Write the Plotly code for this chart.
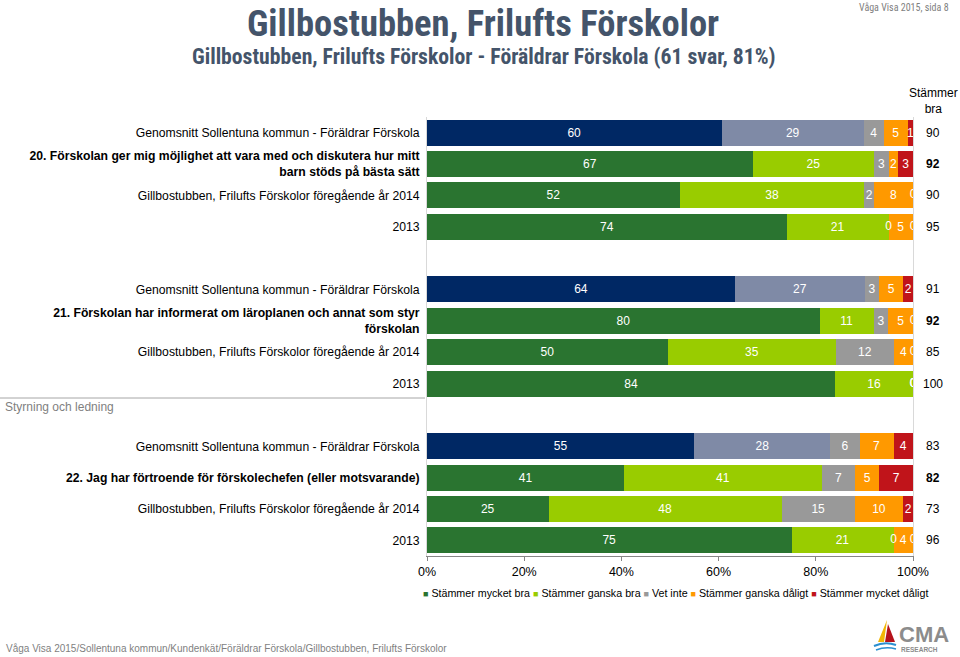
import plotly.graph_objects as go

# ---------------- data ----------------
series_names = ["Stämmer mycket bra", "Stämmer ganska bra", "Vet inte",
                "Stämmer ganska dåligt", "Stämmer mycket dåligt"]

questions = [
    "<b>20. Förskolan ger mig möjlighet att vara med och diskutera hur mitt<br>barn stöds på bästa sätt</b>",
    "<b>21. Förskolan har informerat om läroplanen och annat som styr<br>förskolan</b>",
    "<b>22. Jag har förtroende för förskolechefen (eller motsvarande)</b>",
]
row_kinds = ["Genomsnitt Sollentuna kommun - Föräldrar Förskola", "QUESTION",
             "Gillbostubben, Frilufts Förskolor föregående år 2014", "2013"]

mycket_bra = [60, 67, 52, 74, 64, 80, 50, 84, 55, 41, 25, 75]
ganska_bra = [29, 25, 38, 21, 27, 11, 35, 16, 28, 41, 48, 21]
vet_inte = [4, 3, 2, 0, 3, 3, 12, 0, 6, 7, 15, 0]
ganska_daligt = [5, 2, 8, 5, 5, 5, 4, 0, 7, 5, 10, 4]
mycket_daligt = [1, 3, 0, 0, 2, 0, 0, 0, 4, 7, 2, 0]
stammer_bra = [90, 92, 90, 95, 91, 92, 85, 100, 83, 82, 73, 96]

x_ticks = [0, 20, 40, 60, 80, 100]
x_ticktext = ["0%", "20%", "40%", "60%", "80%", "100%"]

section_label = "Styrning och ledning"

colors_main = ["#2a7430", "#99cc00", "#999999", "#ff9900", "#c0141a"]
colors_avg = ["#002864", "#7f8aa6", "#999999", "#ff9900", "#c0141a"]

# ---------------- layout helpers ----------------
all_series = [mycket_bra, ganska_bra, vet_inte, ganska_daligt, mycket_daligt]
n_rows = len(mycket_bra)
ypos = [(i // 4) * 5 + (i % 4) for i in range(n_rows)]
labels = []
for i in range(n_rows):
    kind = row_kinds[i % 4]
    labels.append(questions[i // 4] if kind == "QUESTION" else kind)

avg_idx = [i for i in range(n_rows) if i % 4 == 0]
main_idx = [i for i in range(n_rows) if i % 4 != 0]

fig = go.Figure()
FONT = "Liberation Sans, Arial, sans-serif"
NARROW = "Liberation Sans Narrow, Arial Narrow, Roboto Condensed, Liberation Sans, sans-serif"

for s, name in enumerate(series_names):
    vals = all_series[s]
    for idx, cols in ((main_idx, colors_main), (avg_idx, colors_avg)):
        fig.add_trace(go.Bar(
            x=[vals[i] for i in idx],
            y=[ypos[i] for i in idx],
            orientation="h",
            name=name,
            showlegend=False,
            marker=dict(color=cols[s], line=dict(width=0)),
            text=[str(vals[i]) if vals[i] > 0 else "" for i in idx],
            textposition="inside",
            insidetextanchor="middle",
            textangle=0,
            textfont=dict(color="white", size=12, family=FONT),
            hoverinfo="x+y+name",
        ))

# zero-value labels at their stacked positions (normalised to 100 %)
zx, zy = [], []
for i in range(n_rows):
    row = [ser[i] for ser in all_series]
    tot = sum(row)
    cum = 0
    for v in row:
        if v == 0:
            zx.append(cum / tot * 100)
            zy.append(ypos[i])
        cum += v
fig.add_trace(go.Scatter(
    x=zx, y=zy, mode="text", text=["0"] * len(zx),
    textfont=dict(color="white", size=12, family=FONT),
    showlegend=False, hoverinfo="skip", cliponaxis=True,
))

W, H = 960, 657
L, R, T, B = 427, 47, 117, 101

fig.update_layout(
    width=W, height=H,
    margin=dict(l=L, r=R, t=T, b=B, autoexpand=False),
    barmode="stack", barnorm="percent", bargap=0.17,
    plot_bgcolor="white", paper_bgcolor="white",
    uniformtext=dict(minsize=12, mode="show"),
    font=dict(family=FONT, size=12, color="#000000"),
    showlegend=False,
    xaxis=dict(range=[0, 100], tickvals=x_ticks, ticktext=x_ticktext,
               showgrid=False, zeroline=False, ticks="outside", ticklen=4,
               tickcolor="#868686", showline=True, linecolor="#868686",
               tickfont=dict(size=12.5, family=FONT), automargin=False),
    yaxis=dict(range=[13.5, -0.5], tickvals=ypos, ticktext=labels,
               showgrid=False, zeroline=False, ticks="", showline=True,
               linecolor="#d9d9d9", mirror=True, automargin=False,
               tickfont=dict(size=12.2, family=FONT), ticklabelstandoff=4),
)

pw = W - L - R
ph = H - T - B


def px_x(x):
    return (x - L) / pw


def py(y):
    return 1 - (y - T) / ph


ann = []
ann.append(dict(text="Stämmer<br>bra", x=px_x(933), y=py(101), xref="paper", yref="paper",
                xanchor="center", yanchor="middle", showarrow=False,
                font=dict(size=12, family=FONT)))
for i in range(n_rows):
    txt = f"<b>{stammer_bra[i]}</b>" if i % 4 == 1 else str(stammer_bra[i])
    ann.append(dict(text=txt, x=px_x(933), y=ypos[i], xref="paper", yref="y",
                    xanchor="center", yanchor="middle", showarrow=False,
                    font=dict(size=12, family=FONT)))
ann.append(dict(text="<b>Gillbostubben, Frilufts Förskolor</b>", x=px_x(483), y=py(24),
                xref="paper", yref="paper", showarrow=False, xanchor="center", yanchor="middle",
                font=dict(size=36.5, family=NARROW, color="#44546a")))
ann.append(dict(text="<b>Gillbostubben, Frilufts Förskolor - Föräldrar Förskola (61 svar, 81%)</b>",
                x=px_x(484), y=py(56), xref="paper", yref="paper", showarrow=False,
                xanchor="center", yanchor="middle",
                font=dict(size=21.7, family=NARROW, color="#44546a")))
ann.append(dict(text="Våga Visa 2015, sida 8", x=px_x(951), y=py(7), xref="paper", yref="paper",
                showarrow=False, xanchor="right", yanchor="middle",
                font=dict(size=10, family=NARROW, color="#7f7f7f")))
ann.append(dict(text=section_label, x=px_x(3), y=py(407), xref="paper", yref="paper",
                showarrow=False, xanchor="left", yanchor="middle",
                font=dict(size=12, family=FONT, color="#7f7f7f")))
ann.append(dict(text="Våga Visa 2015/Sollentuna kommun/Kundenkät/Föräldrar Förskola/Gillbostubben, Frilufts Förskolor",
                x=px_x(4), y=py(648), xref="paper", yref="paper", showarrow=False,
                xanchor="left", yanchor="middle",
                font=dict(size=10, family=FONT, color="#7f7f7f")))
# legend drawn as one text line
leg_parts = []
for s, name in enumerate(series_names):
    leg_parts.append(f'<span style="color:{colors_main[s]};font-size:9px">■</span> {name}')
ann.append(dict(text=" ".join(leg_parts), x=px_x(675), y=py(593), xref="paper", yref="paper",
                showarrow=False, xanchor="center", yanchor="middle",
                font=dict(size=10.7, family=FONT, color="#000000")))
# logo text
ann.append(dict(text="<b>CMA</b>", x=px_x(897), y=py(634), xref="paper", yref="paper",
                showarrow=False, xanchor="left", yanchor="middle",
                font=dict(size=22, family=FONT, color="#8c8c8c")))
ann.append(dict(text="<b>RESEARCH</b>", x=px_x(899), y=py(649), xref="paper", yref="paper",
                showarrow=False, xanchor="left", yanchor="middle",
                font=dict(size=6.5, family=FONT, color="#8c8c8c")))
fig.update_layout(annotations=ann)

shapes = [
    dict(type="line", xref="paper", yref="paper", x0=px_x(0), x1=px_x(425),
         y0=py(398), y1=py(398), line=dict(color="#a6a6a6", width=1)),
    # logo sail
    dict(type="path", xref="paper", yref="paper",
         path=f"M {px_x(878)} {py(642)} L {px_x(887)} {py(620)} L {px_x(884)} {py(642)} Z",
         fillcolor="#f2b705", line=dict(width=0)),
    dict(type="path", xref="paper", yref="paper",
         path=f"M {px_x(885)} {py(642)} L {px_x(888)} {py(624)} L {px_x(895)} {py(642)} Z",
         fillcolor="#b5121b", line=dict(width=0)),
    dict(type="path", xref="paper", yref="paper",
         path=f"M {px_x(874)} {py(646)} Q {px_x(885)} {py(641)} {px_x(896)} {py(645)}",
         line=dict(color="#2a8fd0", width=2)),
    dict(type="path", xref="paper", yref="paper",
         path=f"M {px_x(876)} {py(650)} Q {px_x(886)} {py(646)} {px_x(896)} {py(649)}",
         line=dict(color="#2a8fd0", width=1.5)),
]
fig.update_layout(shapes=shapes)

fig.write_html("out.html", config={"displayModeBar": False},
               post_script="document.body.style.margin='0px';document.body.style.overflow='hidden';")
